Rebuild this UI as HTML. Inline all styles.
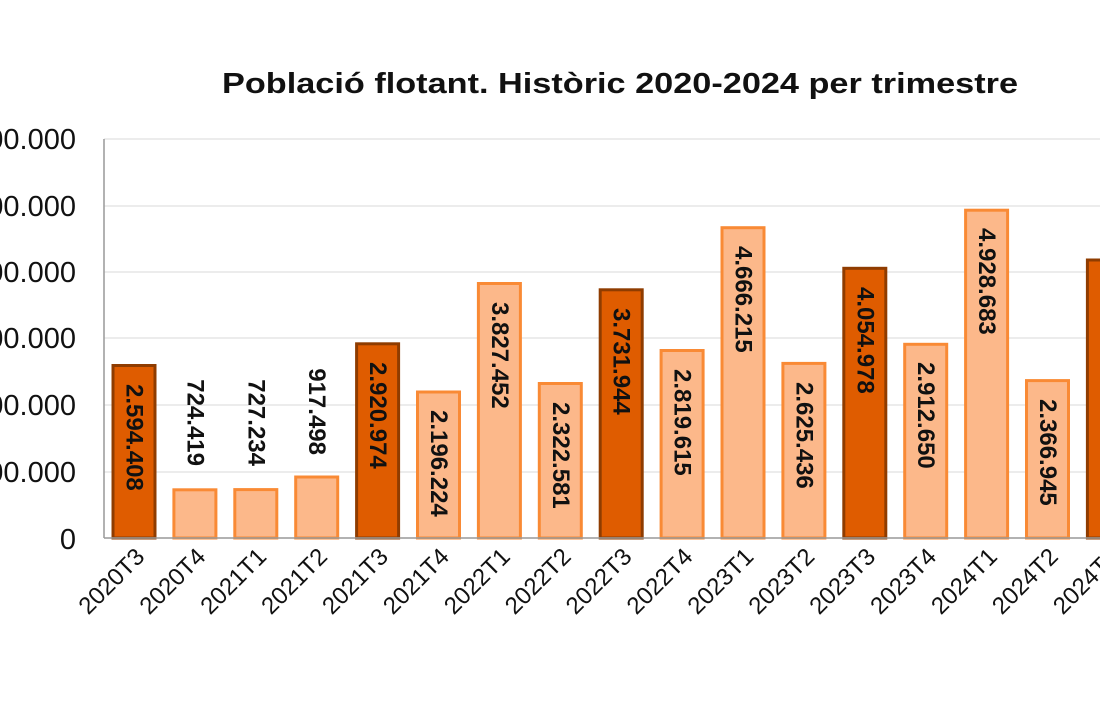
<!DOCTYPE html>
<html><head><meta charset="utf-8"><style>
html,body{margin:0;padding:0;background:#fff;width:1100px;height:710px;overflow:hidden}
svg{display:block;font-family:"Liberation Sans",Arial,sans-serif}
</style></head><body>
<svg width="1100" height="710" viewBox="0 0 1100 710">
<text x="222" y="93" font-size="29" font-weight="bold" fill="#111" textLength="796" lengthAdjust="spacingAndGlyphs">Població flotant. Històric 2020-2024 per trimestre</text>
<g stroke="#e6e6e6" stroke-width="1.5">
<line x1="104" x2="1100" y1="139" y2="139"/><line x1="104" x2="1100" y1="206" y2="206"/>
<line x1="104" x2="1100" y1="272" y2="272"/><line x1="104" x2="1100" y1="338" y2="338"/>
<line x1="104" x2="1100" y1="405" y2="405"/><line x1="104" x2="1100" y1="472" y2="472"/>
</g>
<g font-size="29" fill="#111" text-anchor="end">
<text x="76" y="149">6.000.000</text><text x="76" y="216">5.000.000</text>
<text x="76" y="282">4.000.000</text><text x="76" y="348">3.000.000</text>
<text x="76" y="415">2.000.000</text><text x="76" y="482">1.000.000</text>
<text x="76" y="549">0</text>
</g>
<g stroke-width="3">
<rect x="113" y="365.5" width="42" height="172.5" fill="#df5c00" stroke="#8f3c00"/>
<rect x="173.9" y="489.8" width="42" height="48.2" fill="#fcb88a" stroke="#f98a35"/>
<rect x="234.8" y="489.6" width="42" height="48.4" fill="#fcb88a" stroke="#f98a35"/>
<rect x="295.7" y="477" width="42" height="61" fill="#fcb88a" stroke="#f98a35"/>
<rect x="356.6" y="343.8" width="42" height="194.2" fill="#df5c00" stroke="#8f3c00"/>
<rect x="417.5" y="392" width="42" height="146" fill="#fcb88a" stroke="#f98a35"/>
<rect x="478.4" y="283.5" width="42" height="254.5" fill="#fcb88a" stroke="#f98a35"/>
<rect x="539.3" y="383.5" width="42" height="154.5" fill="#fcb88a" stroke="#f98a35"/>
<rect x="600.2" y="289.8" width="42" height="248.2" fill="#df5c00" stroke="#8f3c00"/>
<rect x="661.1" y="350.5" width="42" height="187.5" fill="#fcb88a" stroke="#f98a35"/>
<rect x="722" y="227.7" width="42" height="310.3" fill="#fcb88a" stroke="#f98a35"/>
<rect x="782.9" y="363.4" width="42" height="174.6" fill="#fcb88a" stroke="#f98a35"/>
<rect x="843.8" y="268.3" width="42" height="269.7" fill="#df5c00" stroke="#8f3c00"/>
<rect x="904.7" y="344.3" width="42" height="193.7" fill="#fcb88a" stroke="#f98a35"/>
<rect x="965.6" y="210.2" width="42" height="327.8" fill="#fcb88a" stroke="#f98a35"/>
<rect x="1026.5" y="380.6" width="42" height="157.4" fill="#fcb88a" stroke="#f98a35"/>
<rect x="1087.4" y="260" width="42" height="278" fill="#df5c00" stroke="#8f3c00"/>
</g>
<line x1="104" x2="104" y1="139" y2="538" stroke="#999" stroke-width="1.5"/>
<line x1="104" x2="1100" y1="538" y2="538" stroke="#999" stroke-width="1.5"/>
<g font-size="24" font-weight="bold" fill="#111" dominant-baseline="central">
<text transform="translate(134,384) rotate(90)">2.594.408</text>
<text transform="translate(194.9,466) rotate(90)" text-anchor="end">724.419</text>
<text transform="translate(255.8,466) rotate(90)" text-anchor="end">727.234</text>
<text transform="translate(316.7,455) rotate(90)" text-anchor="end">917.498</text>
<text transform="translate(377.6,362) rotate(90)">2.920.974</text>
<text transform="translate(438.5,410) rotate(90)">2.196.224</text>
<text transform="translate(499.4,302) rotate(90)">3.827.452</text>
<text transform="translate(560.3,402) rotate(90)">2.322.581</text>
<text transform="translate(621.2,308) rotate(90)">3.731.944</text>
<text transform="translate(682.1,369) rotate(90)">2.819.615</text>
<text transform="translate(743,246) rotate(90)">4.666.215</text>
<text transform="translate(803.9,382) rotate(90)">2.625.436</text>
<text transform="translate(864.8,287) rotate(90)">4.054.978</text>
<text transform="translate(925.7,362) rotate(90)">2.912.650</text>
<text transform="translate(986.6,228) rotate(90)">4.928.683</text>
<text transform="translate(1047.5,399) rotate(90)">2.366.945</text>
<text transform="translate(1108.4,278) rotate(90)">4.183.386</text>
</g>
<g font-size="24" fill="#111" text-anchor="end">
<text transform="translate(146,558) rotate(-45)">2020T3</text>
<text transform="translate(206.9,558) rotate(-45)">2020T4</text>
<text transform="translate(267.8,558) rotate(-45)">2021T1</text>
<text transform="translate(328.7,558) rotate(-45)">2021T2</text>
<text transform="translate(389.6,558) rotate(-45)">2021T3</text>
<text transform="translate(450.5,558) rotate(-45)">2021T4</text>
<text transform="translate(511.4,558) rotate(-45)">2022T1</text>
<text transform="translate(572.3,558) rotate(-45)">2022T2</text>
<text transform="translate(633.2,558) rotate(-45)">2022T3</text>
<text transform="translate(694.1,558) rotate(-45)">2022T4</text>
<text transform="translate(755,558) rotate(-45)">2023T1</text>
<text transform="translate(815.9,558) rotate(-45)">2023T2</text>
<text transform="translate(876.8,558) rotate(-45)">2023T3</text>
<text transform="translate(937.7,558) rotate(-45)">2023T4</text>
<text transform="translate(998.6,558) rotate(-45)">2024T1</text>
<text transform="translate(1059.5,558) rotate(-45)">2024T2</text>
<text transform="translate(1120.4,558) rotate(-45)">2024T3</text>
</g>
</svg>
</body></html>
